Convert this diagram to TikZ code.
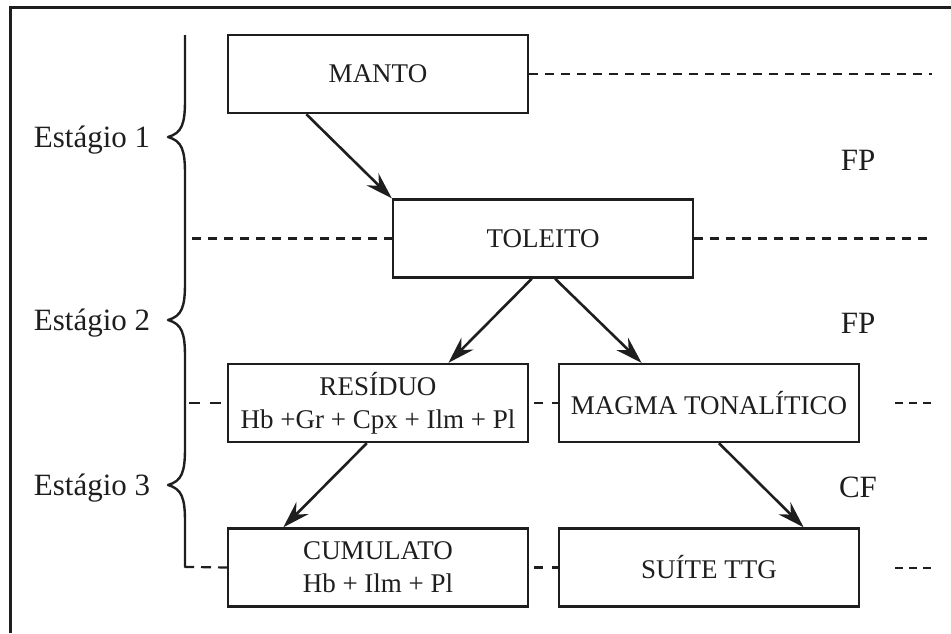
\documentclass[tikz,border=0pt]{standalone}
\usepackage{fontspec}
\setmainfont{Liberation Serif}
\usetikzlibrary{arrows.meta,calc}
\definecolor{ink}{HTML}{1E1E1E}
\begin{document}
\begin{tikzpicture}[x=1pt,y=-1pt,
  stagebox/.style={draw=ink,line width=2.4pt,minimum width=300pt,minimum height=78pt,
    inner sep=0pt,align=center,text=ink,font=\fontsize{27}{33}\selectfont},
  flow/.style={draw=ink,line width=2.6pt,-{Stealth[length=27pt,width=17pt,inset=9pt]}},
  level/.style={draw=ink,line width=2.2pt,dash pattern=on 9pt off 7pt},
  gapline/.style={draw=ink,line width=2.2pt,dash pattern=on 9pt off 9pt,dash phase=13pt},
  stub/.style={draw=ink,line width=2pt,dash pattern=on 8pt off 6pt},
  tag/.style={anchor=base,text=ink,font=\fontsize{31}{36}\selectfont,inner sep=0pt},
]
\useasboundingbox (0,0) rectangle (951,633);

% frame
\draw[ink,line width=3pt] (10,633) -- (10,7) -- (951,7);

% stages of the model
\node[stagebox] (manto)    at (378,74)    {MANTO};
\node[stagebox] (toleito)  at (543,238.5) {TOLEITO};
\node[stagebox] (residuo)  at (378,403)   {RESÍDUO\\Hb +Gr + Cpx + Ilm + Pl};
\node[stagebox] (magma)    at (709,403)   {MAGMA TONALÍTICO};
\node[stagebox] (cumulato) at (378,567.5) {CUMULATO\\Hb + Ilm + Pl};
\node[stagebox] (suite)    at (709,567.5) {SUÍTE TTG};

% brace grouping the three stages
\coordinate (bt) at (185,35);
\coordinate (bb) at (185,567);
\coordinate (bc) at (194,567);
\draw[ink,line width=2.4pt,line join=round]
  (bt) -- (185,100)
  .. controls (185,124) and (182,133) .. (168,137)
  .. controls (182,141) and (185,150) .. (185,174)
  -- (185,283)
  .. controls (185,307) and (182,316) .. (168,320)
  .. controls (182,324) and (185,333) .. (185,357)
  -- (185,448)
  .. controls (185,472) and (182,481) .. (168,485)
  .. controls (182,489) and (185,498) .. (185,522)
  -- (bb) -- (bc);

% free ends of the level lines
\coordinate (l1r) at (932,74);
\coordinate (l2l) at (192,238.5);
\coordinate (l2r) at (932,238.5);
\coordinate (l3l) at (185,403);
\coordinate (l3a) at (895,403);
\coordinate (l3b) at (932,403);
\coordinate (l4a) at (895,567.5);
\coordinate (l4b) at (932,567.5);

% level lines
\draw[level] (manto.east) -- (l1r);
\draw[level] (l2l) -- (toleito.west);
\draw[level] (toleito.east) -- (l2r);
\draw[ink,line width=2.2pt,dash pattern=on 11pt off 10pt,dash phase=17pt] (l3l) -- (residuo.west);
\draw[gapline] (residuo.east) -- (magma.west);
\draw[stub] (l3a) -- (l3b);
\draw[ink,line width=2.2pt,dash pattern=on 10pt off 7pt,dash phase=10pt] (bc) -- (cumulato.west);
\draw[gapline] (cumulato.east) -- (suite.west);
\draw[stub] (l4a) -- (l4b);

% arrows
\draw[flow] ($(manto.south west)!0.263!(manto.south east)$) -- (toleito.north west);
\draw[flow] ($(toleito.south west)!0.463!(toleito.south east)$) -- ($(residuo.north west)!0.733!(residuo.north east)$);
\draw[flow] ($(toleito.south west)!0.54!(toleito.south east)$) -- ($(magma.north west)!0.277!(magma.north east)$);
\draw[flow] ($(residuo.south west)!0.463!(residuo.south east)$) -- ($(cumulato.north west)!0.187!(cumulato.north east)$);
\draw[flow] ($(magma.south west)!0.533!(magma.south east)$) -- ($(suite.north west)!0.813!(suite.north east)$);

% labels
\node[tag] (s1) at (92,147) {Estágio 1};
\node[tag] (s2) at (92,330) {Estágio 2};
\node[tag] (s3) at (92,495) {Estágio 3};
\node[tag] (fp1) at (858,170) {FP};
\node[tag] (fp2) at (858,333) {FP};
\node[tag] (cf)  at (858,497) {CF};
\end{tikzpicture}
\end{document}
